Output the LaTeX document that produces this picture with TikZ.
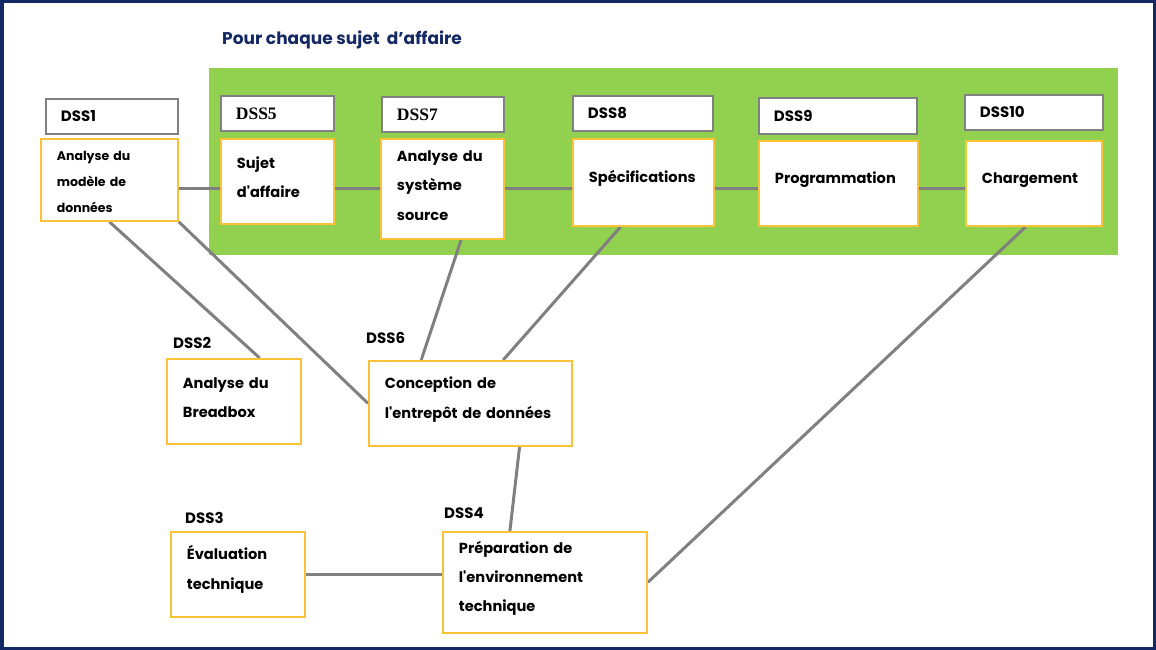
\documentclass[tikz,border=0pt]{standalone}
\usepackage{fontspec}
\setmainfont{Poppins}
\newfontfamily\dssserif{Liberation Serif}
\usetikzlibrary{calc,backgrounds}
\definecolor{navyblue}{RGB}{20,40,100}
\definecolor{leafgreen}{RGB}{146,208,80}
\definecolor{boxgold}{RGB}{250,195,55}
\definecolor{tagrey}{RGB}{128,128,128}
\definecolor{linkgrey}{RGB}{128,128,128}

\begin{document}
\begin{tikzpicture}[x=1pt,y=-1pt,
    tag/.style 2 args={draw=tagrey,line width=1.8pt,fill=white,anchor=north west,inner xsep=15pt,inner ysep=0pt,
      minimum width=#1pt,minimum height=#2pt,text width=\the\dimexpr#1pt-30pt\relax,align=left,
      font=\fontsize{15}{18}\selectfont\bfseries},
    task/.style 2 args={draw=boxgold,line width=1.8pt,fill=white,anchor=north west,inner xsep=16pt,inner ysep=0pt,
      minimum width=#1pt,minimum height=#2pt,text width=\the\dimexpr#1pt-32pt\relax,align=left,text height=4pt,
      font=\fontsize{14.6}{29.3}\selectfont\bfseries},
    plain/.style={anchor=west,inner sep=0pt,font=\fontsize{15}{18}\selectfont\bfseries},
    link/.style={draw=linkgrey,line width=3pt}]
  \useasboundingbox (0,0) rectangle (1156,650);
  \node[anchor=west,inner sep=0pt,text=navyblue,font=\fontsize{17}{20}\selectfont\bfseries] (title) at (222,40) {Pour chaque sujet\ \ d’affaire};

  % labels
  \node[tag={132}{35}] (t1) at (45,98) {DSS1};
  \node[tag={113}{35},font=\fontsize{17.5}{18}\selectfont\dssserif\bfseries] (t5) at (220,95) {DSS5};
  \node[tag={122}{35},font=\fontsize{17.5}{18}\selectfont\dssserif\bfseries] (t7) at (381,96) {DSS7};
  \node[tag={140}{35}] (t8) at (572,95) {DSS8};
  \node[tag={158}{36}] (t9) at (758,97) {DSS9};
  \node[tag={138}{35}] (t10) at (964,94) {DSS10};
  \node[plain] (d2) at (173,343) {DSS2};
  \node[plain] (d6) at (366,338) {DSS6};
  \node[plain] (d3) at (185,518) {DSS3};
  \node[plain] (d4) at (444,513) {DSS4};

  % tasks
  \node[task={137}{82},text height=13pt,font=\fontsize{12.5}{26}\selectfont\bfseries] (m1) at (40,138) {Analyse du\\modèle de\\données};
  \node[task={113}{85}] (m5) at (220,138) {Sujet\\d\textquotesingle affaire};
  \node[task={123}{100}] (m7) at (380,138) {Analyse du\\système\\source};
  \node[task={141}{87}] (m8) at (572,138) {Spécifications};
  \node[task={159}{85}] (m9) at (758,140) {Programmation};
  \node[task={136}{85}] (m10) at (965,140) {Chargement};
  \node[task={134}{85}] (m2) at (166,358) {Analyse du\\Breadbox};
  \node[task={203}{85}] (m6) at (368,360) {Conception de\\l\textquotesingle entrepôt de données};
  \node[task={134}{85}] (m3) at (170,531) {Évaluation\\technique};
  \node[task={204}{101}] (m4) at (442,531) {Préparation de\\l\textquotesingle environnement\\technique};

  \begin{scope}[on background layer]
    \fill[leafgreen] (209,68) rectangle (1118,255);
    \draw[navyblue,line width=3.5pt] (1.75,1.75) rectangle (1154.25,648.25);
    \coordinate (chain) at (0,188);
    \draw[link] (m1.east |- chain) -- (m5.west |- chain);
    \draw[link] (m5.east |- chain) -- (m7.west |- chain);
    \draw[link] (m7.east |- chain) -- (m8.west |- chain);
    \draw[link] (m8.east |- chain) -- (m9.west |- chain);
    \draw[link] (m9.east |- chain) -- (m10.west |- chain);
    \draw[link] (m1.south) -- ($(m2.north west)!0.69!(m2.north east)$);
    \draw[link] (m1.south east) -- (m6.west);
    \draw[link] ($(m7.south west)!0.65!(m7.south east)$) -- ($(m6.north west)!0.26!(m6.north east)$);
    \draw[link] ($(m8.south west)!0.34!(m8.south east)$) -- ($(m6.north west)!0.66!(m6.north east)$);
    \draw[link] ($(m6.south west)!0.74!(m6.south east)$) -- ($(m4.north west)!0.33!(m4.north east)$);
    \draw[link] (m3.east) -- (m3.east -| m4.west);
    \draw[link] ($(m10.south west)!0.44!(m10.south east)$) -- (m4.east);
  \end{scope}
\end{tikzpicture}
\end{document}
